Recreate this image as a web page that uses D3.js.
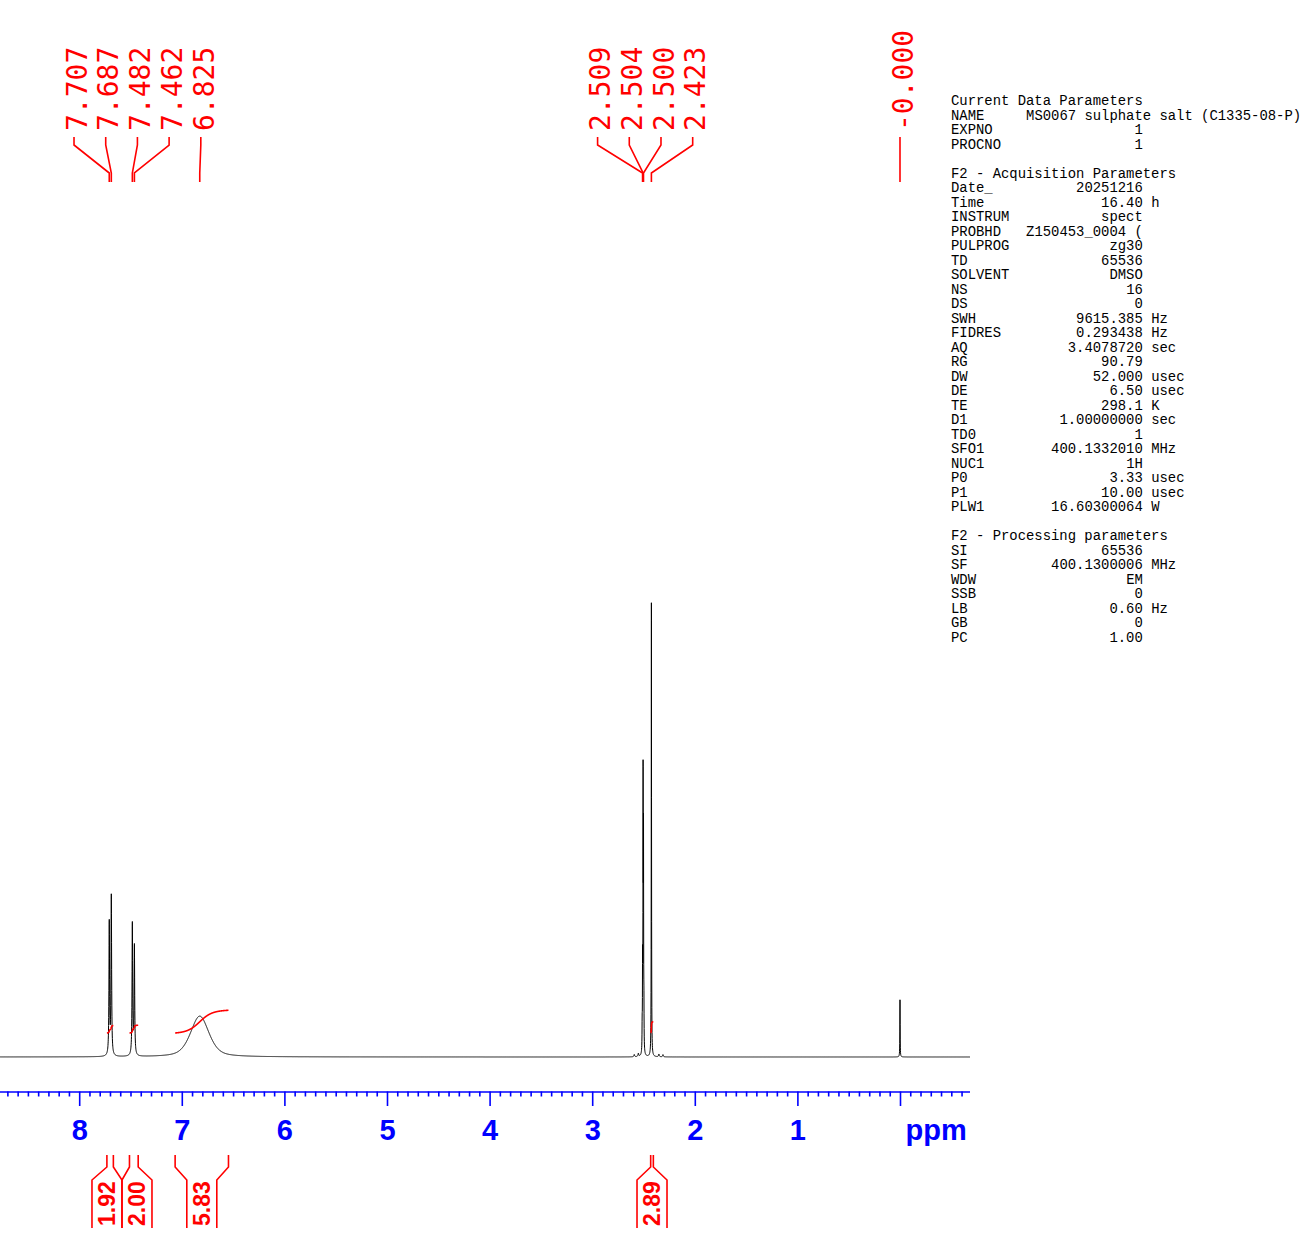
<!DOCTYPE html>
<html><head><meta charset="utf-8">
<script src="https://cdn.jsdelivr.net/npm/d3@7"></script>
<style>body{margin:0;background:#fff}svg{display:block}</style>
</head><body><svg id="c" width="1314" height="1256"></svg>
<script>
// ---------- data ----------
// resonance lines: shift (ppm), intensity (2.423 line = 100), half width (ppm), Lorentzian fraction
const linePpm    = [7.707, 7.687, 7.482, 7.462, 6.825, 2.513, 2.509, 2.504, 2.500, 2.496, 2.423, 0.000, 2.59, 2.55, 2.35, 2.31];
const lineHeight = [29.2, 35.0, 29.0, 24.0, 9.0, 5, 18, 58, 45, 8, 100, 12.6, 0.5, 0.7, 0.6, 0.5];
const lineWidth  = [0.0035, 0.0035, 0.0035, 0.0035, 0.106, 0.0015, 0.0015, 0.0015, 0.0015, 0.0015, 0.0015, 0.0015, 0.004, 0.004, 0.004, 0.004];
const lineLorentz = [1, 1, 1, 1, 0.5, 1, 1, 1, 1, 1, 1, 1, 1, 1, 1, 1];

// peak picking labels
const peakLabelPpm  = [7.707, 7.687, 7.482, 7.462, 6.825, 2.509, 2.504, 2.500, 2.423, 0.000];
const peakLabelText = ["7.707", "7.687", "7.482", "7.462", "6.825", "2.509", "2.504", "2.500", "2.423", "-0.000"];

// integrals
const integralFrom  = [7.730, 7.510, 7.065, 2.430];
const integralTo    = [7.667, 7.425, 6.545, 2.404];
const integralValue = [1.92, 2.00, 5.83, 2.89];

// axis ticks
const majorTicks = [0, 1, 2, 3, 4, 5, 6, 7, 8];
const labelledTicks = [1, 2, 3, 4, 5, 6, 7, 8];
const axisUnit = "ppm";

// acquisition parameter block
const paramTitles = ["Current Data Parameters", "F2 - Acquisition Parameters", "F2 - Processing parameters"];
const paramNames1 = ["NAME", "EXPNO", "PROCNO"];
const paramVals1  = ["MS0067 sulphate salt (C1335-08-P)", "1", "1"];
const paramUnits1 = ["", "", ""];
const paramNames2 = ["Date_", "Time", "INSTRUM", "PROBHD", "PULPROG", "TD", "SOLVENT", "NS", "DS", "SWH", "FIDRES", "AQ", "RG", "DW", "DE", "TE", "D1", "TD0", "SFO1", "NUC1", "P0", "P1", "PLW1"];
const paramVals2  = ["20251216", "16.40", "spect", "Z150453_0004 (", "zg30", "65536", "DMSO", "16", "0", "9615.385", "0.293438", "3.4078720", "90.79", "52.000", "6.50", "298.1", "1.00000000", "1", "400.1332010", "1H", "3.33", "10.00", "16.60300064"];
const paramUnits2 = ["", "h", "", "", "", "", "", "", "", "Hz", "Hz", "sec", "", "usec", "usec", "K", "sec", "", "MHz", "", "usec", "usec", "W"];
const paramNames3 = ["SI", "SF", "WDW", "SSB", "LB", "GB", "PC"];
const paramVals3  = ["65536", "400.1300006", "EM", "0", "0.60", "0", "1.00"];
const paramUnits3 = ["", "MHz", "", "", "Hz", "", ""];

// ---------- drawing ----------
const svg = d3.select("#c");
const RED = "#ff0000", BLUE = "#0000ff";

const x = d3.scaleLinear().domain([8.7719, -0.6823]).range([0, 970]);
const y = d3.scaleLinear().domain([0, 100]).range([1057, 603]);

function spectrum(p) {
  let s = 0;
  for (let i = 0; i < linePpm.length; i++) {
    const d = (p - linePpm[i]) / lineWidth[i];
    const eta = lineLorentz[i];
    const shape = eta / (1 + d * d) + (1 - eta) * Math.exp(-Math.LN2 * d * d);
    s += lineHeight[i] * shape;
  }
  return s;
}

const [pHi, pLo] = x.domain();
let pts = d3.range(pLo, pHi, 0.001).concat(linePpm);
pts.sort((a, b) => a - b);
const specData = pts.map(p => [p, spectrum(p)]);

svg.append("path")
  .datum(specData)
  .attr("fill", "none").attr("stroke", "#000").attr("stroke-width", 1)
  .attr("d", d3.line().x(d => x(d[0])).y(d => y(d[1])));

// integral curves
const integralBaseY = 1033, integralScale = 3.9;
integralFrom.forEach((f, i) => {
  const t = integralTo[i];
  const grid = d3.range(t, f + 1e-9, 0.0005).reverse();
  let acc = 0; const cum = grid.map(p => (acc += spectrum(p)));
  const tot = acc;
  const data = grid.map((p, k) => [p, cum[k] / tot]);
  svg.append("path").datum(data)
    .attr("fill", "none").attr("stroke", RED).attr("stroke-width", 1.6)
    .attr("d", d3.line().x(d => x(d[0])).y(d => integralBaseY - d[1] * integralValue[i] * integralScale));
});

function spread(ideal, gap) {
  let groups = ideal.map(v => ({ vals: [v], c: v }));
  let merged = true;
  while (merged) {
    merged = false;
    for (let k = 1; k < groups.length; k++) {
      const a = groups[k - 1], b = groups[k];
      const aRight = a.c + (a.vals.length - 1) / 2 * gap;
      const bLeft = b.c - (b.vals.length - 1) / 2 * gap;
      if (bLeft - aRight < gap - 1e-6) {
        const vals = a.vals.concat(b.vals);
        groups.splice(k - 1, 2, { vals, c: d3.mean(vals) });
        merged = true; break;
      }
    }
  }
  const out = [];
  groups.forEach(g => g.vals.forEach((v, j) => out.push(g.c + (j - (g.vals.length - 1) / 2) * gap)));
  return out;
}

// peak labels
const peakX = peakLabelPpm.map(p => x(p));
const labelX = spread(peakX, 31.7);
const pkFont = 28;
peakLabelText.forEach((t, i) => {
  const lx = labelX[i], px = peakX[i];
  svg.append("path")
    .attr("fill", "none").attr("stroke", RED).attr("stroke-width", 1.6)
    .attr("d", `M${lx},137L${lx},145L${px},173L${px},182`);
  const tx = lx + 2.5 + 0.364 * pkFont, ty = 131;
  svg.append("text")
    .attr("transform", `translate(${tx},${ty}) rotate(-90)`)
    .attr("font-family", "'DejaVu Sans Mono', monospace")
    .attr("font-size", pkFont).attr("fill", RED)
    .text(t);
});

// integral labels below axis
const intMid = integralFrom.map((f, i) => (x(f) + x(integralTo[i])) / 2);
const boxW = 30;
const boxC = spread(intMid, boxW);
const intFont = 23;
integralValue.forEach((v, i) => {
  const xl = x(integralFrom[i]), xr = x(integralTo[i]), c = boxC[i];
  svg.append("path").attr("fill", "none").attr("stroke", RED).attr("stroke-width", 1.6)
    .attr("d", `M${xl},1155L${xl},1167L${c - boxW / 2},1180L${c - boxW / 2},1228`);
  svg.append("path").attr("fill", "none").attr("stroke", RED).attr("stroke-width", 1.6)
    .attr("d", `M${xr},1155L${xr},1167L${c + boxW / 2},1180L${c + boxW / 2},1228`);
  svg.append("text")
    .attr("transform", `translate(${c + 0.358 * intFont},1226) rotate(-90)`)
    .attr("font-family", "'Liberation Sans', Arial, sans-serif")
    .attr("font-weight", "bold").attr("font-size", intFont).attr("fill", RED)
    .text(v.toFixed(2));
});

// axis
const axisY = 1091.5;
const minorTicks = d3.range(-6, 88).map(v => v / 10).filter(v => Math.abs(v - Math.round(v)) > 1e-6);
const gMinor = svg.append("g").attr("transform", `translate(0,${axisY})`)
  .call(d3.axisBottom(x).tickValues(minorTicks).tickSize(5).tickFormat(""));
const gMajor = svg.append("g").attr("transform", `translate(0,${axisY})`)
  .call(d3.axisBottom(x).tickValues(majorTicks).tickSize(14.5).tickPadding(13)
    .tickFormat(d => labelledTicks.includes(d) ? d3.format("d")(d) : ""));
[gMinor, gMajor].forEach(g => {
  g.selectAll("path.domain").attr("stroke", BLUE).attr("stroke-width", 1.6).attr("d", "M0,0.5H970");
  g.selectAll(".tick line").attr("stroke", BLUE).attr("stroke-width", 1.6);
});
gMinor.select("path.domain").remove();
gMajor.selectAll(".tick text")
  .attr("fill", BLUE).attr("font-family", "'Liberation Sans', Arial, sans-serif")
  .attr("font-weight", "bold").attr("font-size", 29);
svg.append("text").attr("x", 905.5).attr("y", 1140)
  .attr("font-family", "'Liberation Sans', Arial, sans-serif").attr("font-weight", "bold")
  .attr("font-size", 29).attr("fill", BLUE).text(axisUnit);

// parameter block
const px0 = 951, cw = 8.34, lh = 14.51, pFont = 13.9;
let line = 0;
const pText = (str, col, ln) => svg.append("text")
  .attr("x", px0 + col * cw).attr("y", 105 + ln * lh)
  .attr("font-family", "'Liberation Mono', 'Courier New', monospace")
  .attr("font-size", pFont).attr("fill", "#000")
  .style("white-space", "pre").text(str);
function block(title, names, vals, units) {
  pText(title, 0, line++);
  names.forEach((n, i) => {
    pText(n, 0, line);
    const v = vals[i];
    pText(v, Math.max(9, 23 - v.length), line);
    if (units[i]) pText(units[i], 24, line);
    line++;
  });
  line++;
}
block(paramTitles[0], paramNames1, paramVals1, paramUnits1);
block(paramTitles[1], paramNames2, paramVals2, paramUnits2);
block(paramTitles[2], paramNames3, paramVals3, paramUnits3);
</script></body></html>
